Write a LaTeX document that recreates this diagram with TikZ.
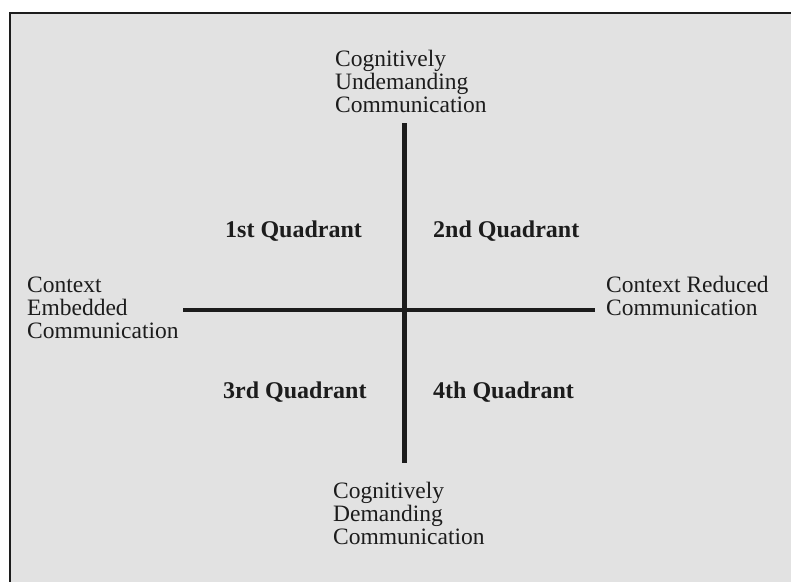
\documentclass[tikz,border=0pt]{standalone}
\usepackage{fontspec}
\setmainfont{Liberation Serif}
\definecolor{panel}{RGB}{226,226,226}
\definecolor{ink}{RGB}{28,28,28}
\tikzset{
  axislabel/.style={inner sep=0pt, align=left, text=ink, font=\fontsize{23.5}{23}\selectfont},
  quadlabel/.style={inner sep=0pt, text=ink, font=\fontsize{24}{24}\selectfont\bfseries},
  axisline/.style={line width=4.6pt, draw=ink},
}
\begin{document}
\begin{tikzpicture}[x=1pt,y=-1pt]
\useasboundingbox (0,0) rectangle (791,581);
\clip (0,0) rectangle (791,581);
\fill[white] (0,0) rectangle (791,581);
\draw[fill=panel, draw=ink, line width=1.5pt] (10,13) rectangle (805,595);
% axes
\coordinate (vtop) at (404.5,123);
\coordinate (vbot) at (404.5,463);
\coordinate (hleft) at (183,310);
\coordinate (hright) at (595,310);
\draw[axisline] (vtop) -- (vbot);
\draw[axisline] (hleft) -- (hright);
% axis labels (base anchor = baseline of last line)
\node[axislabel, anchor=base west] (top) at (335,112) {Cognitively\\Undemanding\\Communication};
\node[axislabel, anchor=base west] (bottom) at (333,544) {Cognitively\\Demanding\\Communication};
\node[axislabel, anchor=base west] (left) at (27,338) {Context\\Embedded\\Communication};
\node[axislabel, anchor=base west] (right) at (606,315) {Context Reduced\\Communication};
% quadrant labels
\node[quadlabel, anchor=base west] (q1) at (225,237) {1st Quadrant};
\node[quadlabel, anchor=base west] (q2) at (433,237) {2nd Quadrant};
\node[quadlabel, anchor=base west] (q3) at (223,398) {3rd Quadrant};
\node[quadlabel, anchor=base west] (q4) at (433,398) {4th Quadrant};
\end{tikzpicture}
\end{document}
